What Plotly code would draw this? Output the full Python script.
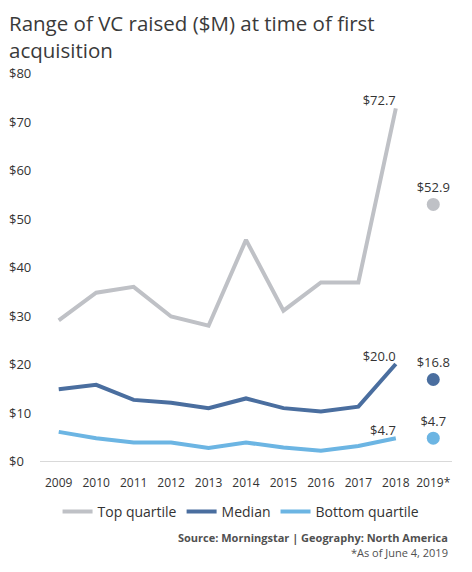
import plotly.graph_objs as go

# Data
years = ['2009', '2010', '2011', '2012', '2013', '2014', '2015', '2016', '2017', '2018']
partial_year = '2019*'
top_quartile = [29.0, 34.7, 35.9, 29.8, 27.9, 45.6, 31.0, 36.8, 36.8, 72.7]
median = [14.8, 15.7, 12.6, 12.0, 10.9, 12.9, 10.9, 10.2, 11.2, 20.0]
bottom_quartile = [6.0, 4.7, 3.8, 3.8, 2.7, 3.8, 2.8, 2.1, 3.1, 4.7]
partial_top = 52.9
partial_median = 16.8
partial_bottom = 4.7
y_ticks = [0, 10, 20, 30, 40, 50, 60, 70, 80]

FONT = 'Open Sans'
TEXT_COLOR = '#333333'
series = [
    ('Top quartile', top_quartile, partial_top, '#bfc1c6'),
    ('Median', median, partial_median, '#4a6e9f'),
    ('Bottom quartile', bottom_quartile, partial_bottom, '#6cb5e3'),
]


def last_label(values):
    # only the final full year gets a value label
    return ['' if i < len(values) - 1 else f'${v:.1f}' for i, v in enumerate(values)]


fig = go.Figure()
for name, values, partial, color in series:
    fig.add_trace(go.Scatter(x=years, y=values, name=name, mode='lines+text',
                             line=dict(color=color, width=4),
                             text=last_label(values), textposition='top left',
                             textfont=dict(family=FONT, size=13, color=TEXT_COLOR),
                             cliponaxis=False))
for name, values, partial, color in series:
    fig.add_trace(go.Scatter(x=[partial_year], y=[partial], mode='markers+text',
                             marker=dict(color=color, size=13), showlegend=False,
                             text=[f'${partial:.1f}'], textposition='top center',
                             textfont=dict(family=FONT, size=13, color=TEXT_COLOR),
                             cliponaxis=False))

# y tick labels sit flush left in the reference, so draw them as annotations
for t in y_ticks:
    fig.add_annotation(xref='paper', yref='y', x=-0.077, y=t, text=f'${t}',
                       showarrow=False, xanchor='left', yanchor='middle', borderpad=0,
                       font=dict(family=FONT, size=13, color=TEXT_COLOR))

fig.add_annotation(xref='paper', yref='paper', x=-0.078, y=1.1675, showarrow=False,
                   xanchor='left', yanchor='top', align='left', borderpad=0,
                   text='Range of VC raised ($M) at time of first<br>acquisition',
                   font=dict(family=FONT, size=20.5, color='#3a3a3a'))
fig.add_annotation(xref='paper', yref='paper', x=0.993, y=-0.196, showarrow=False,
                   xanchor='right', yanchor='middle', borderpad=0,
                   text='<b>Source: Morningstar | Geography: North America</b>',
                   font=dict(family=FONT, size=11, color='#505050'))
fig.add_annotation(xref='paper', yref='paper', x=0.993, y=-0.2371, showarrow=False,
                   xanchor='right', yanchor='middle', text='*As of June 4, 2019', borderpad=0,
                   font=dict(family=FONT, size=11, color='#505050'))

fig.update_layout(
    width=456, height=556,
    margin=dict(l=32, r=12, t=65, b=103),
    paper_bgcolor='white', plot_bgcolor='white',
    font=dict(family=FONT, size=13, color=TEXT_COLOR),
    showlegend=True,
    legend=dict(orientation='h', x=0.488, xanchor='center', y=-0.131, yanchor='middle',
                font=dict(family=FONT, size=14, color=TEXT_COLOR), itemwidth=30),
)
fig.update_xaxes(type='category', categoryorder='array', categoryarray=years + [partial_year],
                 range=[-0.5, 10.5], showgrid=False, showline=False,
                 ticks='outside', ticklen=11, tickcolor='rgba(0,0,0,0)',
                 tickfont=dict(family=FONT, size=12, color=TEXT_COLOR), zeroline=False)
fig.update_yaxes(range=[0, 80], tickvals=y_ticks, showticklabels=False, showgrid=False,
                 zeroline=True, zerolinecolor='#d9d9d9', zerolinewidth=1, showline=False)

fig.write_html('out.html')
